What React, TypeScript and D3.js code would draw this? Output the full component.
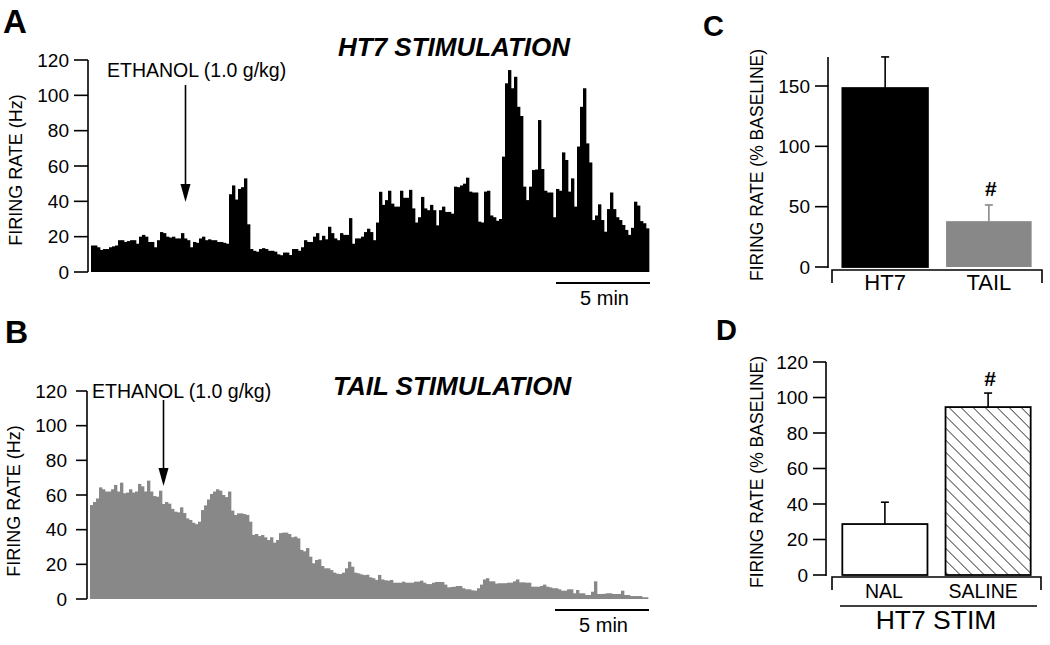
import React from 'react';
import * as d3 from 'd3';

// ---------- DATA ----------
// Panel A: HT7 stimulation, firing rate (Hz) per bin (~10 s bins)
const ht7Rate = [
  15, 15, 14, 12.5, 13, 13, 14, 14.5, 15, 18,
  18, 17, 17.5, 18, 18, 16, 20, 21, 20, 17,
  17, 14, 18, 22.6, 22, 20, 19.5, 20, 19, 19,
  22, 19, 18, 14, 17, 16.5, 19, 20, 18, 18.5,
  18, 18, 17, 17, 16.5, 16, 44, 49, 41, 47,
  48, 53, 27, 13, 12, 11.5, 13, 13.5, 13, 12,
  12, 11.5, 10, 9.5, 11, 11, 9.6, 13, 13, 12,
  14, 18, 17, 17, 20, 22, 18, 20.5, 18.5, 25.6,
  22, 19, 18, 22, 21, 21, 30.5, 16, 19, 19,
  20, 22.6, 24.5, 22.6, 18, 28, 45.4, 38, 40.7, 46,
  38.7, 37, 37, 46, 42, 42, 46.5, 36, 28, 31,
  42.5, 36, 35, 38, 35, 26.4, 35, 37, 34, 34,
  33, 48.3, 48, 49, 50, 53.4, 45.5, 45, 45, 28.5,
  28, 45.5, 46, 32, 31, 29, 30, 65.3, 106.8, 114.3,
  104, 110.5, 93.5, 88.3, 48.3, 40.7, 48.3, 57.7, 58, 86,
  58.3, 46, 45, 45, 31, 47, 46, 67.7, 63.4, 45.5,
  53, 37, 71, 93.5, 104, 72.8, 62, 29.4, 32, 38.3,
  29.4, 22.8, 35.6, 45, 35.6, 31, 29.4, 26.6, 23.8, 21,
  25, 39.8, 37.6, 28.8, 27.6, 24.7,
];

// Panel B: tail stimulation, firing rate (Hz) per bin
const tailRate = [
  54.2, 56, 58, 64.4, 63.3, 62, 62, 63.3, 65.8, 62,
  67.1, 61, 61.4, 63.3, 61.4, 62, 66.4, 65, 62, 68.3,
  62, 59.4, 59, 62.5, 54.8, 56, 55, 52, 50.4, 50,
  52.9, 49.6, 46.5, 45.6, 44, 43.2, 44.6, 51.3, 54, 57.4,
  60.6, 62, 63.3, 62.5, 60, 58.8, 62, 51, 48.5, 49.4,
  49.4, 49, 48.5, 44.6, 37, 37.5, 36.3, 36.9, 35.6, 34,
  35.6, 32.5, 34, 38, 38.3, 38.3, 37.5, 35.6, 36, 35,
  28.3, 27.5, 29.4, 24.4, 20.6, 22.5, 22.9, 19, 17.7, 17.7,
  16.7, 15.2, 14.6, 14.4, 15.2, 17.7, 21.5, 18.6, 15.2, 14.8,
  14.2, 13.8, 14, 12.5, 12, 11, 13.9, 11.3, 10.8, 10.6,
  11, 9.4, 9.4, 9.4, 10, 9.4, 9.4, 9.4, 10, 10,
  10.6, 9.4, 8.6, 8.6, 9.4, 9.8, 9.8, 9.8, 8.3, 6.7,
  6.9, 7.1, 7.5, 7.5, 6.2, 5.6, 5.6, 5, 4.8, 6.2,
  8.3, 11.3, 12, 10.2, 10.2, 8.9, 9.1, 9.1, 9.1, 9.4,
  9.4, 10.2, 11.3, 9.6, 9.6, 9.4, 9.4, 7.1, 7.1, 7.1,
  7.5, 8.3, 7.1, 6.7, 6.2, 6.2, 5.6, 4.8, 4.8, 5.6,
  5.6, 3.3, 5.2, 3.3, 3.3, 2.3, 2.3, 4.2, 10.2, 2.9,
  2.9, 3, 3.3, 3.3, 2.9, 2.9, 2.9, 4.8, 2.3, 2.3,
  1.7, 1.7, 1.7, 1.7, 1, 1,
];

const hzTicks = [0, 20, 40, 60, 80, 100, 120];
const ethanolBinA = 31;
const ethanolBinB = 24;
const scaleBarBins = 31; // 5 min

// Panel C
const cCats = ['HT7', 'TAIL'];
const cMeans = [148.3, 38];
const cSems = [25.8, 13.4];
const cTicks = [0, 50, 100, 150];

// Panel D
const dCats = ['NAL', 'SALINE'];
const dMeans = [28.7, 94.6];
const dSems = [12.3, 7.9];
const dTicks = [0, 20, 40, 60, 80, 100, 120];

const FONT = '"Liberation Sans", Arial, Helvetica, sans-serif';

function Arrow({ x, y1, y2 }: { x: number; y1: number; y2: number }) {
  return (
    <g>
      <line x1={x} x2={x} y1={y1} y2={y2 - 16} stroke="#000" strokeWidth={1.6} />
      <path d={`M${x - 5},${y2 - 18} L${x + 5},${y2 - 18} L${x},${y2} Z`} fill="#000" />
    </g>
  );
}

function Histogram({
  data, x0, x1, yBottom, yTop, axisX, tickLen, labelX, color, labelCx, labelCy,
  title, titleX, titleY, ethBin, ethTextX, ethTextY, arrowTop, arrowBottom, barY,
}: any) {
  const x = d3.scaleBand<number>().domain(d3.range(data.length)).range([x0, x1]).padding(0);
  const y = d3.scaleLinear().domain([0, 120]).range([yBottom, yTop]);
  const bw = x.bandwidth();
  const ax = (x(ethBin) as number) + bw / 2;
  const sbStart = x(data.length - scaleBarBins) as number;
  return (
    <g>
      {data.map((v: number, i: number) => (
        <rect key={i} x={x(i)} y={y(v)} width={bw + 0.35} height={y(0) - y(v)} fill={color} />
      ))}
      <line x1={axisX} x2={axisX} y1={y(120)} y2={y(0)} stroke="#000" strokeWidth={1.6} />
      {hzTicks.map((t) => (
        <g key={t}>
          <line x1={axisX - tickLen} x2={axisX} y1={y(t)} y2={y(t)} stroke="#000" strokeWidth={1.6} />
          <text x={labelX} y={y(t)} dy="0.35em" textAnchor="end" fontSize={19} fontFamily={FONT}>{t}</text>
        </g>
      ))}
      <text transform={`translate(${labelCx},${labelCy}) rotate(-90)`} textAnchor="middle" dy="0.35em"
        fontSize={18} fontFamily={FONT}>FIRING RATE (Hz)</text>
      <text x={titleX} y={titleY} fontSize={26} fontWeight="bold" fontStyle="italic" fontFamily={FONT}>{title}</text>
      <text x={ethTextX} y={ethTextY} fontSize={19.5} fontFamily={FONT}>ETHANOL (1.0 g/kg)</text>
      <Arrow x={ax} y1={arrowTop} y2={arrowBottom} />
      <line x1={sbStart} x2={x1 + 1} y1={barY} y2={barY} stroke="#000" strokeWidth={2} />
      <text x={(sbStart + x1) / 2 + 2} y={barY + 22} textAnchor="middle" fontSize={20} fontFamily={FONT}>5 min</text>
    </g>
  );
}

function BarPanel({
  cats, means, sems, ticks, domainMax, yBottom, yTopPx, axisX, xAxisY, xL, xR,
  labelX, labelCy, fills, errColors, hashIdx, hashY, catLabelY, catFont, axisTopVal, labelShift,
}: any) {
  const y = d3.scaleLinear().domain([0, domainMax]).range([yBottom, yTopPx]);
  const x = d3.scaleBand<string>().domain(cats).range([xL, xR]).paddingInner(0.175).paddingOuter(0.1);
  const bw = x.bandwidth();
  return (
    <g>
      <line x1={axisX} x2={axisX} y1={y(axisTopVal)} y2={y(0) + 1} stroke="#000" strokeWidth={1.6} />
      {ticks.map((t: number) => (
        <g key={t}>
          <line x1={axisX - 13} x2={axisX} y1={y(t)} y2={y(t)} stroke="#000" strokeWidth={1.6} />
          <text x={axisX - 18} y={y(t)} dy="0.35em" textAnchor="end" fontSize={19} fontFamily={FONT}>{t}</text>
        </g>
      ))}
      <path d={`M${xL},${xAxisY + 13} V${xAxisY} H${xR} V${xAxisY + 13}`} fill="none" stroke="#000" strokeWidth={1.6} />
      <text transform={`translate(${labelX},${labelCy}) rotate(-90)`} textAnchor="middle" dy="0.35em"
        fontSize={17.5} fontFamily={FONT}>FIRING RATE (% BASELINE)</text>
      {cats.map((c: string, i: number) => {
        const bx = x(c) as number;
        const cx = bx + bw / 2;
        const top = y(means[i]);
        const eTop = y(means[i] + sems[i]);
        const gray = fills[i] === '#888888';
        return (
          <g key={c}>
            <line x1={cx} x2={cx} y1={top} y2={eTop} stroke={errColors[i]} strokeWidth={1.6} />
            <line x1={cx - 4} x2={cx + 4} y1={eTop} y2={eTop} stroke={errColors[i]} strokeWidth={1.6} />
            <rect x={bx} y={top} width={bw} height={y(0) - top} fill={fills[i]}
              stroke={gray ? 'none' : '#000'} strokeWidth={gray ? 0 : 1.8} />
            <text x={cx + (labelShift ? labelShift[i] : 0)} y={catLabelY} textAnchor="middle" fontSize={catFont} fontFamily={FONT}>{c}</text>
            {i === hashIdx && (
              <text x={cx + 2} y={hashY} textAnchor="middle" fontSize={21} fontWeight="bold" fontFamily={FONT}>#</text>
            )}
          </g>
        );
      })}
    </g>
  );
}

export default function App() {
  return (
    <svg width={1050} height={645} style={{ position: 'absolute', left: 0, top: 0, background: '#fff' }}>
      <defs>
        <pattern id="hatch" patternUnits="userSpaceOnUse" width={8.5} height={8.5} patternTransform="rotate(-45)">
          <rect width={8.5} height={8.5} fill="#fff" />
          <line x1={0} y1={0} x2={0} y2={8.5} stroke="#000" strokeWidth={1.3} />
        </pattern>
      </defs>
      <rect width={1050} height={645} fill="#fff" />

      {/* Panel letters */}
      <text x={3} y={33} fontSize={33} fontWeight="bold" fontFamily={FONT}>A</text>
      <text x={5} y={343} fontSize={32} fontWeight="bold" fontFamily={FONT}>B</text>
      <text x={703} y={36} fontSize={29} fontWeight="bold" fontFamily={FONT}>C</text>
      <text x={716} y={340} fontSize={29} fontWeight="bold" fontFamily={FONT}>D</text>

      <Histogram data={ht7Rate} x0={91} x1={649} yBottom={272} yTop={60} axisX={88} tickLen={14}
        labelX={69} color="#000" labelCx={16} labelCy={170} title="HT7 STIMULATION" titleX={338} titleY={56}
        ethBin={ethanolBinA} ethTextX={107} ethTextY={77} arrowTop={85} arrowBottom={202} barY={283} />

      <Histogram data={tailRate} x0={90} x1={648} yBottom={599} yTop={391} axisX={87} tickLen={11}
        labelX={67} color="#888888" labelCx={14} labelCy={501} title="TAIL STIMULATION" titleX={333} titleY={395}
        ethBin={ethanolBinB} ethTextX={92} ethTextY={398} arrowTop={400} arrowBottom={486} barY={610} />

      <BarPanel cats={cCats} means={cMeans} sems={cSems} ticks={cTicks} domainMax={150}
        yBottom={267} yTopPx={86} axisX={828} xAxisY={270} xL={832} xR={1042} axisTopVal={174}
        labelX={757} labelCy={165} fills={['#000000', '#888888']} errColors={['#000', '#888888']}
        hashIdx={1} hashY={196} catLabelY={290} catFont={22} />

      <BarPanel cats={dCats} means={dMeans} sems={dSems} ticks={dTicks} domainMax={120}
        yBottom={575} yTopPx={362} axisX={826} xAxisY={577} xL={832} xR={1041} axisTopVal={120}
        labelX={757} labelCy={472} fills={['#ffffff', 'url(#hatch)']} errColors={['#000', '#000']}
        hashIdx={1} hashY={386} catLabelY={598} catFont={19.5} labelShift={[-1, -5]} />

      <line x1={840} x2={1037} y1={606} y2={606} stroke="#000" strokeWidth={1.6} />
      <text x={936} y={629} textAnchor="middle" fontSize={26.5} fontFamily={FONT}>HT7 STIM</text>
    </svg>
  );
}
